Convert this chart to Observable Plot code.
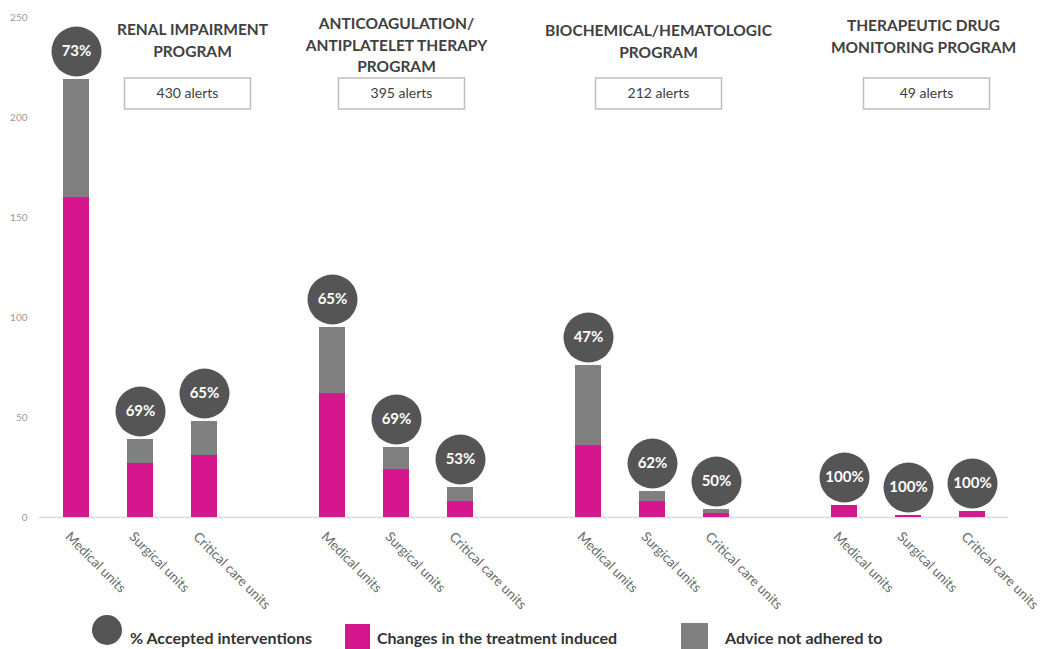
<!DOCTYPE html>
<html>
<head>
<meta charset="utf-8">
<script src="https://cdn.jsdelivr.net/npm/d3@7"></script>
<script src="https://cdn.jsdelivr.net/npm/@observablehq/plot@0.6"></script>
<style>
  html, body { margin: 0; padding: 0; background: white; }
  #wrap { position: relative; width: 1051px; height: 649px; overflow: hidden; font-family: Lato, sans-serif; }
  #chart { position: absolute; left: 0; top: 0; }
  .lg { position: absolute; font-weight: bold; font-size: 16px; color: #333; line-height: 20px; white-space: nowrap; }
  .sw { position: absolute; }
</style>
</head>
<body>
<div id="wrap">
  <div id="chart"></div>
  <div class="sw" style="left:92px;top:615px;width:30px;height:30px;border-radius:50%;background:#555555;"></div>
  <div class="lg" style="left:130px;top:628px;">% Accepted interventions</div>
  <div class="sw" style="left:345px;top:624px;width:25px;height:25px;background:#d5168d;"></div>
  <div class="lg" style="left:377px;top:628px;">Changes in the treatment induced</div>
  <div class="sw" style="left:681px;top:623px;width:27px;height:26px;background:#808080;"></div>
  <div class="lg" style="left:725px;top:628px;">Advice not adhered to</div>
</div>
<script>
// ---- data ----
const programs = ["Renal impairment", "Anticoagulation/antiplatelet therapy", "Biochemical/hematologic", "Therapeutic drug monitoring"];
const programTitles = ["RENAL IMPAIRMENT\nPROGRAM", "ANTICOAGULATION/\nANTIPLATELET THERAPY\nPROGRAM", "BIOCHEMICAL/HEMATOLOGIC\nPROGRAM", "THERAPEUTIC DRUG\nMONITORING PROGRAM"];
const alerts = [430, 395, 212, 49];
const units = ["Medical units", "Surgical units", "Critical care units"];
const series = ["Changes in the treatment induced", "Advice not adhered to"];
const changesInduced   = [160, 27, 31,  62, 24, 8,  36, 8, 2,  6, 1, 3];
const adviceNotAdhered = [ 59, 12, 17,  33, 11, 7,  40, 5, 2,  0, 0, 0];
const acceptedPct      = [ 73, 69, 65,  65, 69, 53, 47, 62, 50, 100, 100, 100];
const yTicks = [0, 50, 100, 150, 200, 250];

// ---- layout (not data) ----
const pink = "#d5168d", gray = "#808080", circle = "#555555";
const titleDx = [52, 0, 6, 15];
const titleDy = [2, -4, 3, -2];
const boxDx = [47, 5, 6, 18];

// ---- build tables ----
const keys = [];
programs.forEach((p, g) => {
  units.forEach(u => keys.push(p + "|" + u));
  if (g < programs.length - 1) keys.push("gap" + g);
});
const barRows = [];
const pctRows = [];
programs.forEach((p, g) => {
  units.forEach((u, i) => {
    const j = g * units.length + i;
    const key = p + "|" + u;
    barRows.push({key, series: series[0], value: changesInduced[j]});
    barRows.push({key, series: series[1], value: adviceNotAdhered[j]});
    pctRows.push({key, total: changesInduced[j] + adviceNotAdhered[j], pct: acceptedPct[j]});
  });
});
const progRows = programs.map((p, g) => ({
  key: p + "|" + units[1], title: programTitles[g], alerts: alerts[g], g
}));

const boxSymbol = { draw(ctx) { ctx.moveTo(-63, -15.5); ctx.lineTo(63, -15.5); ctx.lineTo(63, 15.5); ctx.lineTo(-63, 15.5); ctx.closePath(); } };

const chart = Plot.plot({
  width: 1051,
  height: 620,
  marginLeft: 39,
  marginRight: 43,
  marginTop: 17,
  marginBottom: 103,
  style: { fontFamily: "Lato, sans-serif", background: "white", overflow: "visible" },
  x: { domain: keys, paddingInner: 0.6, paddingOuter: 0.3, axis: null },
  y: { domain: [0, 250], axis: null },
  color: { domain: series, range: [pink, gray] },
  marks: [
    Plot.axisY({ ticks: yTicks, tickSize: 0, tickPadding: 12, fontSize: 10, color: "#9a9a9a", label: null }),
    Plot.ruleY([0], { stroke: "#d9d9d9", strokeWidth: 1.5 }),
    Plot.barY(barRows, { x: "key", y: "value", fill: "series" }),
    Plot.dot(pctRows, { x: "key", y: "total", r: 25, fill: circle, dy: -28 }),
    Plot.text(pctRows, { x: "key", y: "total", text: d => d.pct + "%", dy: -28, fill: "white", fontWeight: "bold", fontSize: 15 }),
    Plot.axisX({
      tickRotate: 45, tickSize: 0, tickPadding: 17, dx: -9, fontSize: 13.5, color: "#6a6a6a", label: null,
      tickFormat: k => k.startsWith("gap") ? "" : k.split("|")[1]
    }),
    ...progRows.map(d => Plot.text([d], {
      x: "key", y: 250, text: "title", lineAnchor: "top", lineHeight: 1.4,
      dx: titleDx[d.g], dy: titleDy[d.g], fontWeight: "bold", fontSize: 15.5, fill: "#404040"
    })),
    ...progRows.map(d => Plot.dot([d], {
      x: "key", y: 212, symbol: boxSymbol, r: 1, dx: boxDx[d.g], fill: "white", stroke: "#bfbfbf", strokeWidth: 1.5
    })),
    ...progRows.map(d => Plot.text([d], {
      x: "key", y: 212, text: r => r.alerts + " alerts", dx: boxDx[d.g], fontSize: 14, fill: "#404040"
    }))
  ]
});
document.getElementById("chart").appendChild(chart);
</script>
</body>
</html>
